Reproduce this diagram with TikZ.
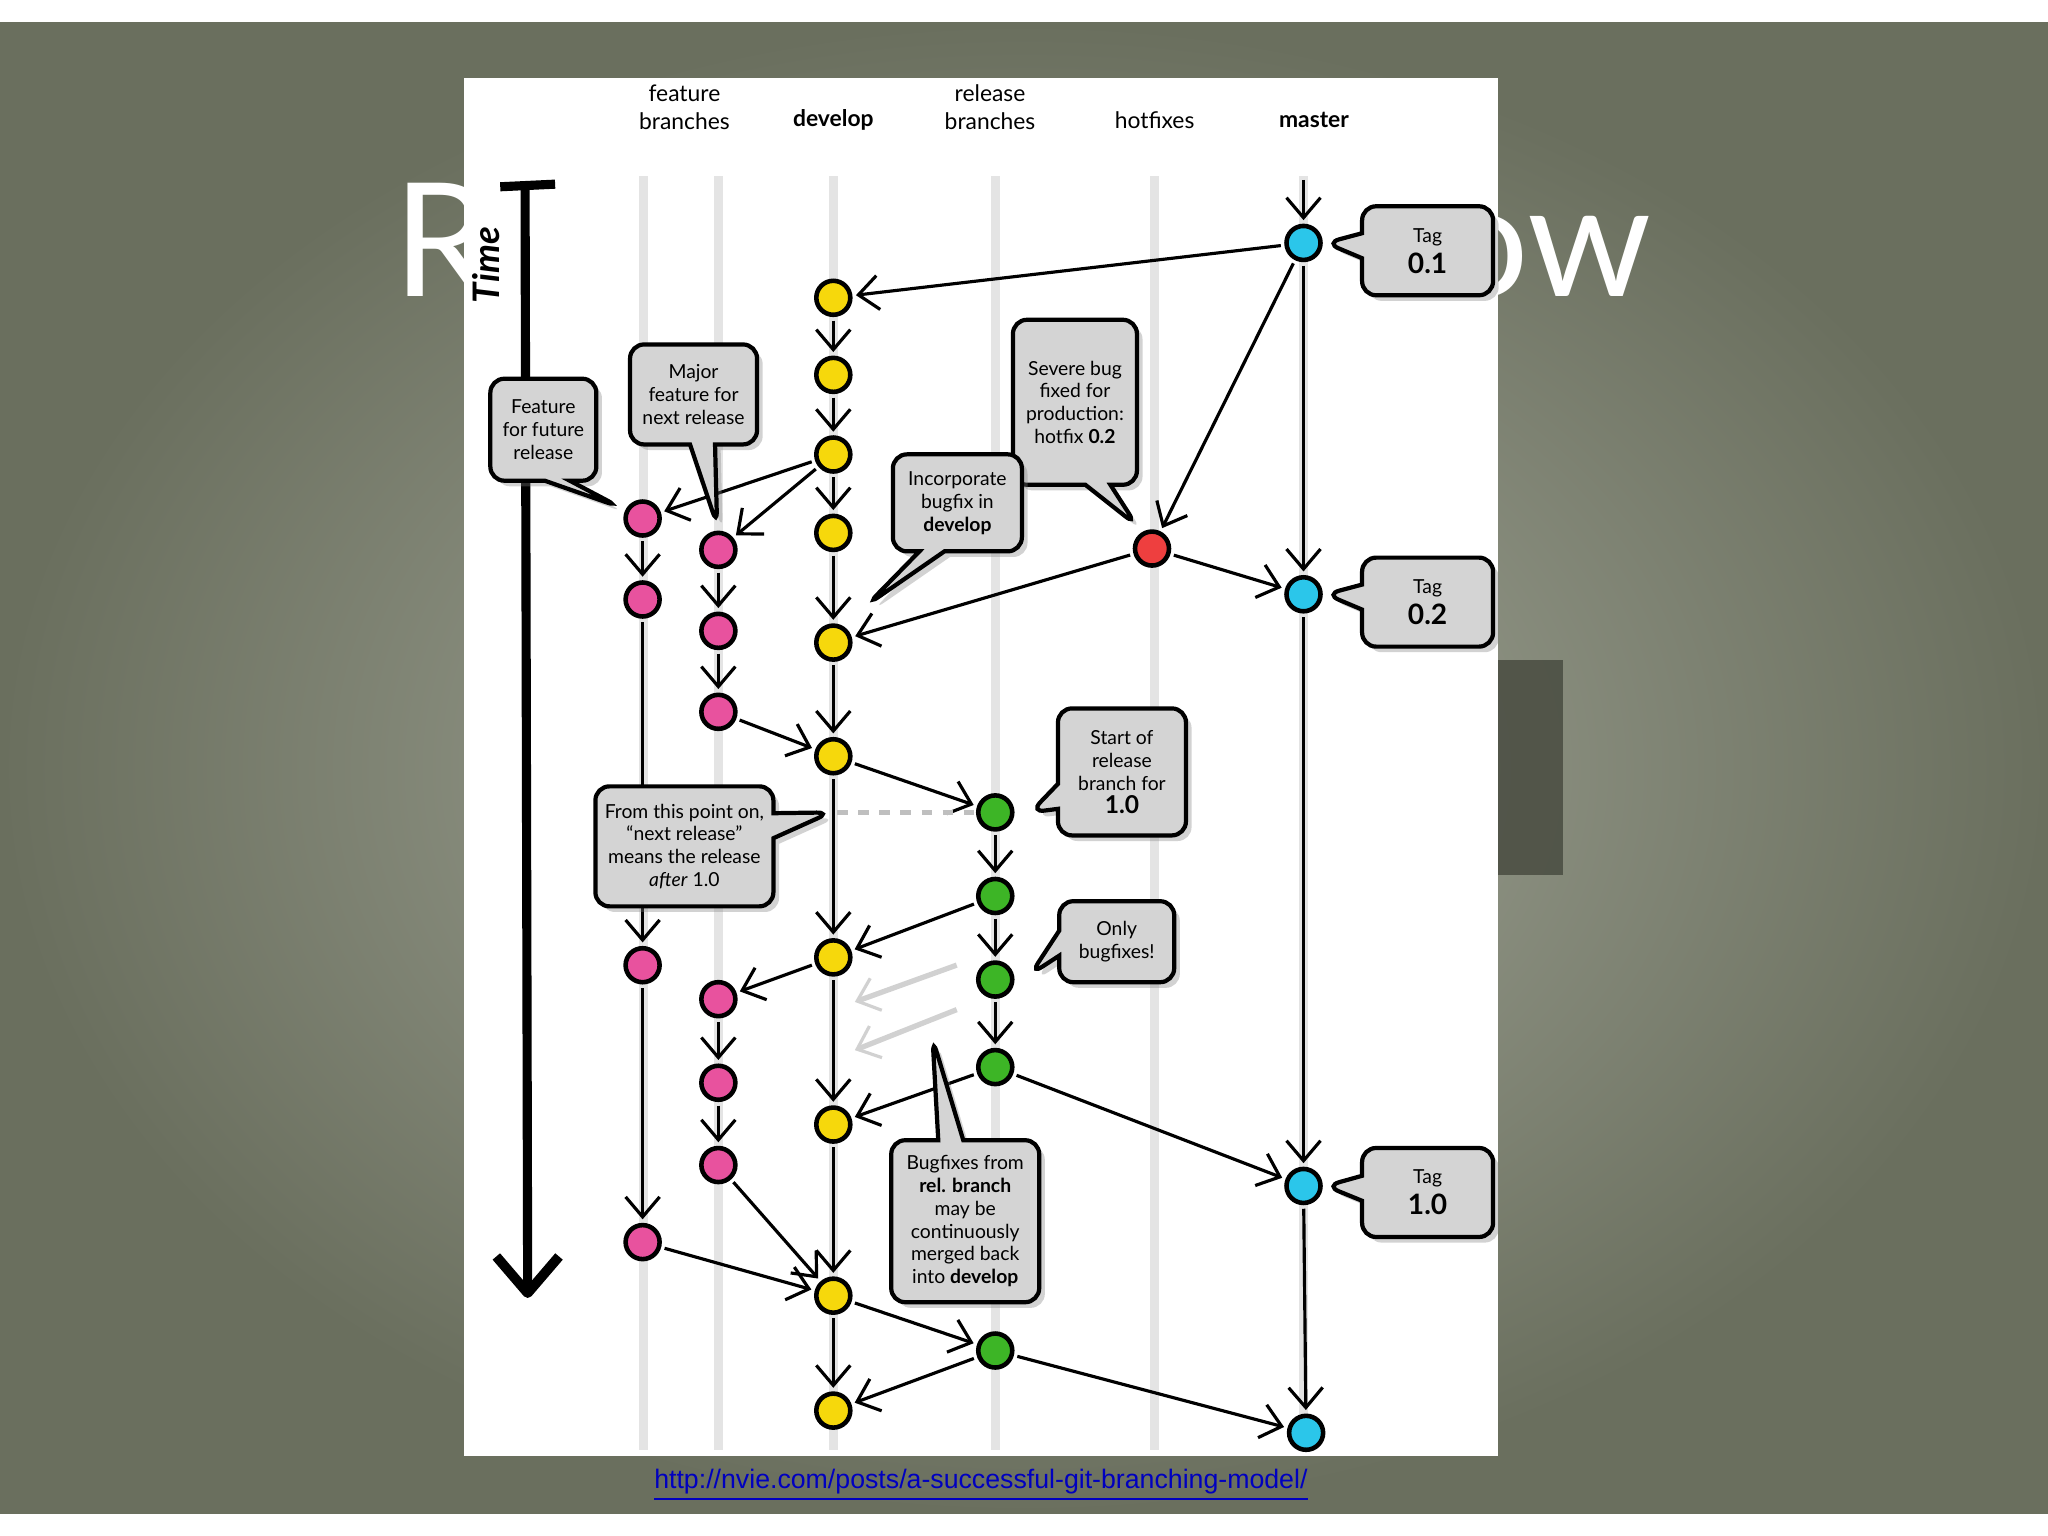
\documentclass[tikz,border=0pt]{standalone}
\usepackage{fontspec}
\setmainfont{Lato}
\newfontfamily\linkfont{Liberation Sans}
\usetikzlibrary{shapes.callouts,shadows,arrows.meta}
\definecolor{cy}{HTML}{F6D80C}
\definecolor{cp}{HTML}{E8529E}
\definecolor{cg}{HTML}{3DB526}
\definecolor{cc}{HTML}{2BC6EA}
\definecolor{cr}{HTML}{EE3F3F}
\definecolor{bgout}{HTML}{6A6F5E}
\definecolor{bgin}{HTML}{A4A89A}
\definecolor{cfill}{HTML}{D4D4D4}
\definecolor{lane}{HTML}{E4E4E4}
\tikzset{
 commit/.style={circle,draw=black,line width=1.3pt,minimum size=0.34cm,inner sep=0pt},
 yel/.style={commit,fill=cy}, pnk/.style={commit,fill=cp}, grn/.style={commit,fill=cg},
 cyn/.style={commit,fill=cc}, red/.style={commit,fill=cr},
 ed/.style={line width=0.9pt,-{Straight Barb[length=2mm,width=3.4mm,line width=0.9pt]},shorten >=1pt,shorten <=1pt},
 faded/.style={ed,draw=black!18,line width=1.5pt},
 bubble/.style={rectangle callout,draw=black,line width=1.2pt,fill=cfill,rounded corners=4pt,
   align=center,font=\fontsize{5.5}{6.5}\selectfont,inner sep=1pt,drop shadow={opacity=0.35,shadow xshift=1.6pt,shadow yshift=-1.6pt}},
 hdr/.style={font=\fontsize{6.5}{8}\selectfont,align=center}
}
\begin{document}
\begin{tikzpicture}[x=0.013061cm,y=-0.013061cm]
\useasboundingbox (0,0) rectangle (1568,1176);
\fill[white] (0,0) rectangle (1568,1176);
\shade[inner color=bgin,outer color=bgout] (0,17) rectangle (1568,1159);
\fill[black!35!bgout,opacity=0.8] (1147,505) rectangle (1197,670);
\node[anchor=west,text=white,font=\fontsize{45}{50}\selectfont] (title) at (292,183) {Release Workflow};
\fill[white] (355,60) rectangle (1147,1115);
% lanes
\foreach \x in {493,550,638,762,884,998} \draw[lane,line width=2.6pt] (\x,135) -- (\x,1110);
% headers
\node[hdr] (h1t) at (524,82) {feature\\branches};
\node[hdr,font=\fontsize{6.5}{8}\selectfont\bfseries] (h2t) at (638,92) {develop};
\node[hdr] (h3t) at (758,82) {release\\branches};
\node[hdr] (h4t) at (884,92) {hotfixes};
\node[hdr,font=\fontsize{6.5}{8}\selectfont\bfseries] (h5t) at (1006,92) {master};
% time arrow
\coordinate (t0) at (402,143); \coordinate (t1) at (404,988);
\draw[line width=2.6pt] (t0) -- (t1);
\draw[line width=2.6pt] (383,143) -- (425,141);
\draw[line width=2.8pt,line join=round] (380,962) -- (404,990) -- (428,962);
\node[rotate=90,font=\fontsize{10.4}{12}\selectfont\bfseries\itshape] (time) at (372,203) {Time};
% nodes
\node[cyn] (m1) at (998,186) {}; \node[cyn] (m2) at (998,455) {};
\node[cyn] (m3) at (998,908) {}; \node[cyn] (m4) at (1000,1097) {};
\foreach \n/\y in {1/228,2/287,3/348,4/408,5/492,6/579,7/733,8/861,9/992,10/1080} \node[yel] (d\n) at (638,\y) {};
\node[red] (h1) at (882,420) {};
\foreach \n/\y in {1/622,2/686,3/750,4/817,5/1034} \node[grn] (r\n) at (762,\y) {};
\foreach \n/\y in {1/397,2/459,3/739,4/951} \node[pnk] (fa\n) at (492,\y) {};
\foreach \n/\y in {1/421,2/483,3/545,4/765,5/829,6/892} \node[pnk] (fb\n) at (550,\y) {};
% edges
\coordinate (mtop) at (998,135);
\draw[ed] (mtop) -- (m1);
\draw[ed] (m1) -- (d1); \draw[ed] (m1) -- (h1); \draw[ed] (m1) -- (m2);
\foreach \a/\b in {1/2,2/3,3/4,4/5,5/6,6/7,7/8,8/9,9/10} \draw[ed] (d\a) -- (d\b);
\draw[ed] (d3) -- (fa1); \draw[ed] (d3) -- (fb1);
\draw[ed] (fa1) -- (fa2); \draw[ed] (fa2) -- (fa3); \draw[ed] (fa3) -- (fa4); \draw[ed] (fa4) -- (d9);
\draw[ed] (fb1) -- (fb2); \draw[ed] (fb2) -- (fb3); \draw[ed] (fb3) -- (d6);
\draw[ed] (h1) -- (d5); \draw[ed] (h1) -- (m2);
\draw[ed] (m2) -- (m3); \draw[ed] (m3) -- (m4);
\draw[ed] (d6) -- (r1);
\draw[ed] (r1) -- (r2); \draw[ed] (r2) -- (r3); \draw[ed] (r3) -- (r4);
\draw[ed] (r2) -- (d7); \draw[ed] (d7) -- (fb4);
\draw[ed] (fb4) -- (fb5); \draw[ed] (fb5) -- (fb6); \draw[ed] (fb6) -- (d9);
\draw[ed] (r4) -- (d8); \draw[ed] (r4) -- (m3);
\draw[ed] (d9) -- (r5); \draw[ed] (r5) -- (d10); \draw[ed] (r5) -- (m4);
\coordinate (ds) at (641,622);
\draw[black!25,dashed,line width=1.3pt] (ds) -- (r1);
\coordinate (fa) at (735,738); \coordinate (fb) at (652,768);
\coordinate (fc) at (735,772); \coordinate (fd) at (652,805);
\draw[faded] (fa) -- (fb); \draw[faded] (fc) -- (fd);
% callouts
\node[bubble,minimum width=1.31cm,minimum height=0.89cm,callout absolute pointer={(1015,186)}] (c1) at (1093,192)
 {\fontsize{5.5}{6.5}\selectfont Tag\\[1pt]\fontsize{8}{9}\selectfont\bfseries 0.1};
\node[bubble,minimum width=1.31cm,minimum height=0.89cm,callout absolute pointer={(1015,455)}] (c2) at (1093,461)
 {\fontsize{5.5}{6.5}\selectfont Tag\\[1pt]\fontsize{8}{9}\selectfont\bfseries 0.2};
\node[bubble,minimum width=1.31cm,minimum height=0.89cm,callout absolute pointer={(1015,908)}] (c3) at (1093,913)
 {\fontsize{5.5}{6.5}\selectfont Tag\\[1pt]\fontsize{8}{9}\selectfont\bfseries 1.0};
\node[bubble,minimum width=1.06cm,minimum height=1.02cm,callout absolute pointer={(474,388)}] (c4) at (416,329)
 {Feature\\for future\\release};
\node[bubble,minimum width=1.27cm,minimum height=1.0cm,callout absolute pointer={(549,402)}] (c5) at (531,302)
 {Major\\feature for\\next release};
\node[bubble,minimum width=1.24cm,minimum height=1.65cm,callout absolute pointer={(870,402)}] (c6) at (823,308)
 {Severe bug\\fixed for\\production:\\hotfix \textbf{0.2}};
\node[bubble,minimum width=1.29cm,minimum height=0.97cm,callout absolute pointer={(664,463)}] (c7) at (733,385)
 {Incorporate\\bugfix in\\\textbf{develop}};
\node[bubble,minimum width=1.28cm,minimum height=1.27cm,callout absolute pointer={(789,622)}] (c8) at (859,591)
 {Start of\\release\\branch for\\\fontsize{7}{8}\selectfont\bfseries 1.0};
\node[bubble,minimum width=1.78cm,minimum height=1.2cm,callout absolute pointer={(636,622)}] (c9) at (524,648)
 {From this point on,\\“next release”\\means the release\\\textit{after} 1.0};
\node[bubble,minimum width=1.15cm,minimum height=0.81cm,callout absolute pointer={(789,746)}] (c10) at (855,721)
 {Only\\bugfixes!};
\node[bubble,minimum width=1.48cm,minimum height=1.62cm,callout absolute pointer={(714,795)}] (c11) at (739,935)
 {Bugfixes from\\\textbf{rel. branch}\\may be\\continuously\\merged back\\into \textbf{develop}};
% link
\node[text=blue!75!black,font=\linkfont\fontsize{7.6}{9}\selectfont] (link) at (751,1137)
 {\underline{http://nvie.com/posts/a-successful-git-branching-model/}};
\end{tikzpicture}
\end{document}
